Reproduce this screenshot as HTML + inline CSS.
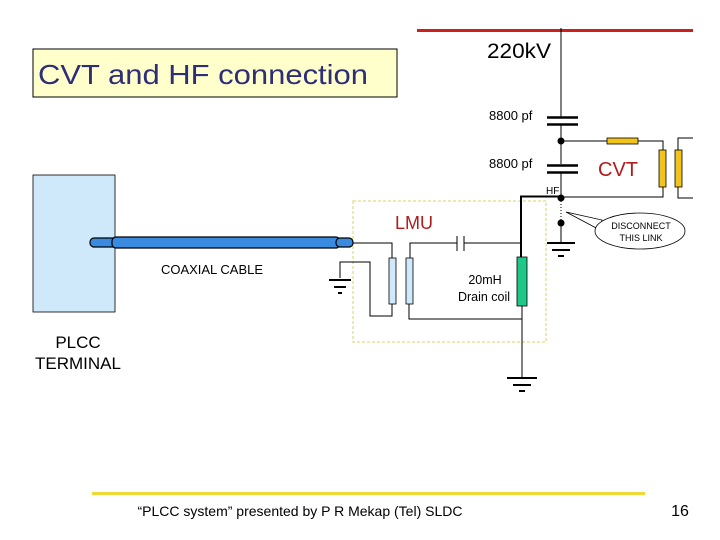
<!DOCTYPE html>
<html><head><meta charset="utf-8"><style>
body{margin:0;background:#fff;}
svg{display:block;font-family:"Liberation Sans",sans-serif;}
</style></head><body>
<svg width="720" height="540" viewBox="0 0 720 540" xmlns="http://www.w3.org/2000/svg">
<rect width="720" height="540" fill="#fff"/>
<!-- title -->
<rect x="33" y="49" width="364" height="48" fill="#ffffcc" stroke="#000" stroke-width="1"/>
<text x="38" y="84" font-size="28" fill="#2e2e78" textLength="330" lengthAdjust="spacingAndGlyphs">CVT and HF connection</text>
<!-- 220kV -->
<line x1="417" y1="30.5" x2="693" y2="30.5" stroke="#cc1f1f" stroke-width="3"/>
<text x="487" y="58" font-size="21" fill="#000" textLength="64" lengthAdjust="spacingAndGlyphs">220kV</text>
<line x1="561" y1="28" x2="561" y2="117" stroke="#000"/>
<!-- capacitors -->
<line x1="547" y1="117.5" x2="578" y2="117.5" stroke="#000" stroke-width="2.5"/>
<line x1="547" y1="124.5" x2="578" y2="124.5" stroke="#000" stroke-width="2.5"/>
<text x="489" y="120" font-size="13" fill="#000">8800 pf</text>
<line x1="561" y1="124" x2="561" y2="164" stroke="#000"/>
<line x1="547" y1="165.5" x2="578" y2="165.5" stroke="#000" stroke-width="2.5"/>
<line x1="547" y1="172.5" x2="578" y2="172.5" stroke="#000" stroke-width="2.5"/>
<text x="489" y="168" font-size="13" fill="#000">8800 pf</text>
<line x1="561" y1="172" x2="561" y2="198" stroke="#000"/>
<circle cx="561" cy="141" r="3.5" fill="#000"/>
<circle cx="561" cy="198" r="3.5" fill="#000"/>
<text x="546" y="194" font-size="10" fill="#000">HF</text>
<text x="598" y="176" font-size="20" fill="#b01c1c">CVT</text>
<!-- CVT branch -->
<polyline points="561,141 607,141" fill="none" stroke="#000"/>
<rect x="607" y="138" width="31" height="6" fill="#f2c318" stroke="#000" stroke-width="0.8"/>
<polyline points="638,141 663,141 663,150" fill="none" stroke="#000"/>
<rect x="659" y="150" width="7" height="37" fill="#f2c318" stroke="#000" stroke-width="0.8"/>
<polyline points="663,187 663,197 561,197" fill="none" stroke="#000"/>
<rect x="675" y="150" width="7" height="37" fill="#f2c318" stroke="#000" stroke-width="0.8"/>
<polyline points="693,138 678,138 678,150" fill="none" stroke="#000"/>
<polyline points="678,187 678,198 693,198" fill="none" stroke="#000"/>
<!-- link -->
<line x1="561" y1="201" x2="561" y2="220" stroke="#000" stroke-dasharray="1,2"/>
<circle cx="561" cy="223" r="3.5" fill="#000"/>
<line x1="561" y1="223" x2="561" y2="243" stroke="#000"/>
<line x1="547" y1="243" x2="575" y2="243" stroke="#000" stroke-width="2"/>
<line x1="552" y1="250" x2="570" y2="250" stroke="#000" stroke-width="2"/>
<line x1="558" y1="256" x2="564" y2="256" stroke="#000" stroke-width="2"/>
<!-- bubble -->
<polygon points="566,212 602,220 600,230" fill="#fff" stroke="#000" stroke-width="0.8"/>
<ellipse cx="640" cy="231" rx="45" ry="18" fill="#fff" stroke="#000" stroke-width="0.8"/>
<text x="641" y="229" font-size="9" text-anchor="middle" fill="#000">DISCONNECT</text>
<text x="641" y="241" font-size="9" text-anchor="middle" fill="#000">THIS LINK</text>
<!-- LMU box -->
<rect x="353" y="201" width="193" height="141" fill="none" stroke="#e0d060" stroke-dasharray="3,2"/>
<text x="395" y="229" font-size="18" fill="#b01c1c">LMU</text>
<polyline points="561,196.5 521,196.5 521,257" fill="none" stroke="#000" stroke-width="2"/>
<rect x="517" y="257" width="10" height="49" fill="#20c888" stroke="#000" stroke-width="0.8"/>
<line x1="522" y1="306" x2="522" y2="377" stroke="#000"/>
<line x1="507" y1="378" x2="537" y2="378" stroke="#000" stroke-width="2"/>
<line x1="513" y1="385" x2="531" y2="385" stroke="#000" stroke-width="2"/>
<line x1="519" y1="391" x2="525" y2="391" stroke="#000" stroke-width="2"/>
<text x="485" y="284" font-size="12.5" text-anchor="middle" fill="#000">20mH</text>
<text x="484" y="301" font-size="12.5" text-anchor="middle" fill="#000">Drain coil</text>
<!-- capacitor in LMU -->
<polyline points="410,258 410,243 457,243" fill="none" stroke="#000"/>
<line x1="457" y1="236" x2="457" y2="251" stroke="#000"/>
<line x1="464" y1="236" x2="464" y2="251" stroke="#000"/>
<line x1="464" y1="243" x2="522" y2="243" stroke="#000"/>
<!-- transformer -->
<rect x="389" y="258" width="7" height="46" fill="#cfe8fa" stroke="#000" stroke-width="0.8"/>
<rect x="406" y="258" width="7" height="46" fill="#cfe8fa" stroke="#000" stroke-width="0.8"/>
<polyline points="352,243 392,243 392,258" fill="none" stroke="#000"/>
<polyline points="340,278 340,262 370,262 370,316 392,316 392,304" fill="none" stroke="#000"/>
<polyline points="409,304 409,319 522,319" fill="none" stroke="#000"/>
<line x1="329" y1="280" x2="351" y2="280" stroke="#000" stroke-width="2"/>
<line x1="334" y1="287" x2="346" y2="287" stroke="#000" stroke-width="2"/>
<line x1="338" y1="293" x2="342" y2="293" stroke="#000" stroke-width="2"/>
<!-- PLCC -->
<rect x="33" y="175" width="82" height="137" fill="#cfe8fa" stroke="#000" stroke-width="0.8"/>
<text x="78" y="348" font-size="17" text-anchor="middle" fill="#000">PLCC</text>
<text x="78" y="369" font-size="17" text-anchor="middle" fill="#000">TERMINAL</text>
<!-- coax -->
<rect x="90" y="238" width="30" height="9" rx="4" fill="#3a8ae0" stroke="#000" stroke-width="1.2"/>
<rect x="112" y="237" width="228" height="11" rx="4" fill="#3a8ae0" stroke="#000" stroke-width="1.2"/>
<rect x="336" y="238" width="17" height="9" rx="4" fill="#3a8ae0" stroke="#000" stroke-width="1.2"/>
<text x="212" y="274" font-size="13" text-anchor="middle" fill="#000">COAXIAL CABLE</text>
<!-- footer -->
<line x1="92" y1="493.5" x2="645" y2="493.5" stroke="#f0d838" stroke-width="3"/>
<text x="300" y="516" font-size="14" text-anchor="middle" fill="#000">“PLCC system” presented by P R Mekap (Tel) SLDC</text>
<text x="680" y="516" font-size="16" text-anchor="middle" fill="#000">16</text>
</svg>
</body></html>
